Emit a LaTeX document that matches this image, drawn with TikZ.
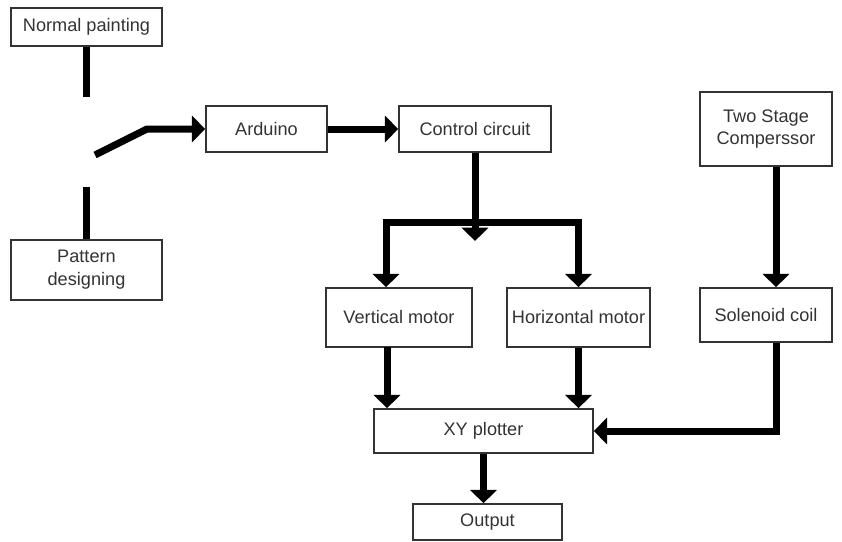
\documentclass[tikz,border=0pt]{standalone}
\usepackage{fontspec}
\setmainfont{Liberation Sans}
\usetikzlibrary{arrows.meta}
\tikzset{
	blk/.style 2 args={draw=black!80, line width=1.3pt, text=black!80, align=center,
		font=\fontsize{15.5pt}{19.5pt}\selectfont, inner sep=0pt,
		minimum width=#1*0.3mm, minimum height=#2*0.3mm},
	wire/.style={line width=2.1mm},
	arr/.style={wire, -{Triangle[width=7.8mm,length=4mm]}},
	twoarr/.style={wire, {Triangle[width=7.8mm,length=4mm]}-{Triangle[width=7.8mm,length=4mm]}}
}
\begin{document}
\begin{tikzpicture}[x=0.3mm,y=-0.3mm]
	\useasboundingbox (0,0) rectangle (842,542);
	\node[blk={151}{38}] (normal) at (86.5,27) {Normal painting};
	\node[blk={151}{60}] (pattern) at (86.5,270) {Pattern\\designing};
	\node[blk={121}{46}] (arduino) at (266.5,129) {Arduino};
	\node[blk={152}{46}] (control) at (475,129) {Control circuit};
	\node[blk={132}{74}] (compressor) at (766,129) {Two Stage\\Comperssor};
	\node[blk={146}{59}] (vmotor) at (399,317.5) {Vertical motor};
	\node[blk={143}{59}] (hmotor) at (578.5,317.5) {Horizontal motor};
	\node[blk={132}{54}] (solenoid) at (766,315) {Solenoid coil};
	\node[blk={219}{44}] (plotter) at (483.5,431) {XY plotter};
	\node[blk={149}{36}] (output) at (487.5,522) {Output};
	% switch
	\coordinate (ncontact) at (86.5,97);
	\coordinate (pcontact) at (86.5,187);
	\coordinate (lever) at (95,155);
	\coordinate (pivot) at (147,129);
	\draw[wire] (normal.south) -- (ncontact);
	\draw[wire] (pattern.north) -- (pcontact);
	\draw[arr] (lever) -- (pivot) -- (arduino.west);
	\draw[arr] (arduino.east) -- (control.west);
	% split to the motors
	\coordinate (split) at (475,241);
	\coordinate (bl) at (386,222);
	\coordinate (br) at (578.5,222);
	\draw[arr] (control.south) -- (split);
	\draw[twoarr] (bl |- vmotor.north) -- (bl) -- (br) -- (br |- hmotor.north);
	\coordinate (vout) at (387,347);
	\draw[arr] (vout) -- (vout |- plotter.north);
	\draw[arr] (hmotor.south) -- (hmotor.south |- plotter.north);
	% air line
	\coordinate (cdrop) at (776,0);
	\draw[arr] (compressor.south -| cdrop) -- (solenoid.north -| cdrop);
	\draw[arr] (solenoid.south -| cdrop) |- (plotter.east);
	\draw[arr] (plotter.south) -- (plotter.south |- output.north);
\end{tikzpicture}
\end{document}
